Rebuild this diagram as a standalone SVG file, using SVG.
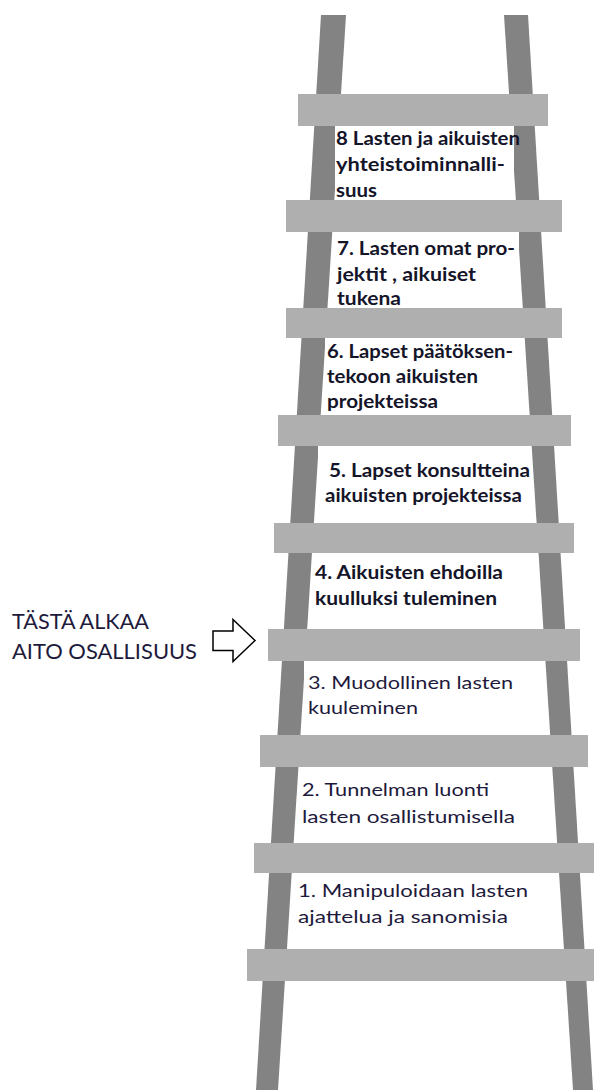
<svg xmlns="http://www.w3.org/2000/svg" width="594" height="1090" viewBox="0 0 594 1090">
<style>
.rail{fill:#838383}
.rung{fill:#afafaf}
.box{fill:#ffffff}
.b{font-family:Lato,"Liberation Sans",sans-serif;font-weight:bold;font-size:18.5px;fill:#15152a}
.r{font-family:Lato,"Liberation Sans",sans-serif;font-size:17px;fill:#1e1a3c}
.lbl{font-family:Lato,"Liberation Sans",sans-serif;font-size:21px;fill:#1e1a3c}
</style>
<rect width="594" height="1090" fill="#ffffff"/>
<g id="ladder">
<polygon class="rail" points="321,15 346,15 278,1090 256,1090"/>
<polygon class="rail" points="504,15 528,15 593,1090 573,1090"/>
<rect class="rung" x="298" y="94" width="250" height="32"/>
<rect class="rung" x="286" y="200" width="276" height="32"/>
<rect class="rung" x="286" y="308" width="276" height="30"/>
<rect class="rung" x="278" y="415" width="293" height="31"/>
<rect class="rung" x="274" y="523" width="300" height="30"/>
<rect class="rung" x="268" y="629" width="312" height="32"/>
<rect class="rung" x="260" y="735" width="328" height="32"/>
<rect class="rung" x="254" y="843" width="340" height="30"/>
<rect class="rung" x="247" y="949" width="347" height="32"/>
</g>
<g id="step8">
<rect class="box" x="335" y="126" width="179" height="74"/>
<text class="b" x="336" y="145" textLength="184" lengthAdjust="spacingAndGlyphs">8 Lasten ja aikuisten</text>
<text class="b" x="336" y="171" textLength="169" lengthAdjust="spacingAndGlyphs">yhteistoiminnalli-</text>
<text class="b" x="336" y="197" textLength="41" lengthAdjust="spacingAndGlyphs">suus</text>
</g>
<g id="step7">
<rect class="box" x="333" y="232" width="186" height="76"/>
<text class="b" x="337" y="255" textLength="178" lengthAdjust="spacingAndGlyphs">7. Lasten omat pro-</text>
<text class="b" x="337" y="280.5" textLength="139" lengthAdjust="spacingAndGlyphs">jektit , aikuiset</text>
<text class="b" x="337" y="305" textLength="64" lengthAdjust="spacingAndGlyphs">tukena</text>
</g>
<g id="step6">
<rect class="box" x="325" y="338" width="198" height="77"/>
<text class="b" x="327" y="358" textLength="186" lengthAdjust="spacingAndGlyphs">6. Lapset päätöksen-</text>
<text class="b" x="327" y="383" textLength="151" lengthAdjust="spacingAndGlyphs">tekoon aikuisten</text>
<text class="b" x="327" y="408" textLength="111" lengthAdjust="spacingAndGlyphs">projekteissa</text>
</g>
<g id="step5">
<rect class="box" x="318" y="446" width="213" height="77"/>
<text class="b" x="329" y="477" textLength="201" lengthAdjust="spacingAndGlyphs">5. Lapset konsultteina</text>
<text class="b" x="325" y="502" textLength="197" lengthAdjust="spacingAndGlyphs">aikuisten projekteissa</text>
</g>
<g id="step4">
<rect class="box" x="313" y="553" width="224" height="76"/>
<text class="b" x="315" y="579" textLength="188" lengthAdjust="spacingAndGlyphs">4. Aikuisten ehdoilla</text>
<text class="b" x="315" y="604.5" textLength="182" lengthAdjust="spacingAndGlyphs">kuulluksi tuleminen</text>
</g>
<g id="step3">
<rect class="box" x="304" y="661" width="238" height="74"/>
<text class="r" x="308" y="688.5" textLength="205" lengthAdjust="spacingAndGlyphs">3. Muodollinen lasten</text>
<text class="r" x="308" y="714" textLength="110" lengthAdjust="spacingAndGlyphs">kuuleminen</text>
</g>
<g id="step2">
<rect class="box" x="299" y="767" width="246" height="76"/>
<text class="r" x="302" y="796" textLength="187" lengthAdjust="spacingAndGlyphs">2. Tunnelman luonti</text>
<text class="r" x="302" y="823" textLength="213" lengthAdjust="spacingAndGlyphs">lasten osallistumisella</text>
</g>
<g id="step1">
<rect class="box" x="294" y="873" width="256" height="76"/>
<text class="r" x="298" y="897" textLength="230" lengthAdjust="spacingAndGlyphs">1. Manipuloidaan lasten</text>
<text class="r" x="298" y="923" textLength="210" lengthAdjust="spacingAndGlyphs">ajattelua ja sanomisia</text>
</g>
<g id="label">
<text class="lbl" x="12" y="629" textLength="137" lengthAdjust="spacingAndGlyphs">TÄSTÄ ALKAA</text>
<text class="lbl" x="12" y="659" textLength="185" lengthAdjust="spacingAndGlyphs">AITO OSALLISUUS</text>
</g>
<g id="connectors">
<polygon points="213,631 233,631 233,619.5 255,640.5 233,661.5 233,650.5 213,650.5" fill="#ffffff" stroke="#000000" stroke-width="1.5" stroke-linejoin="miter"/>
</g>
</svg>
